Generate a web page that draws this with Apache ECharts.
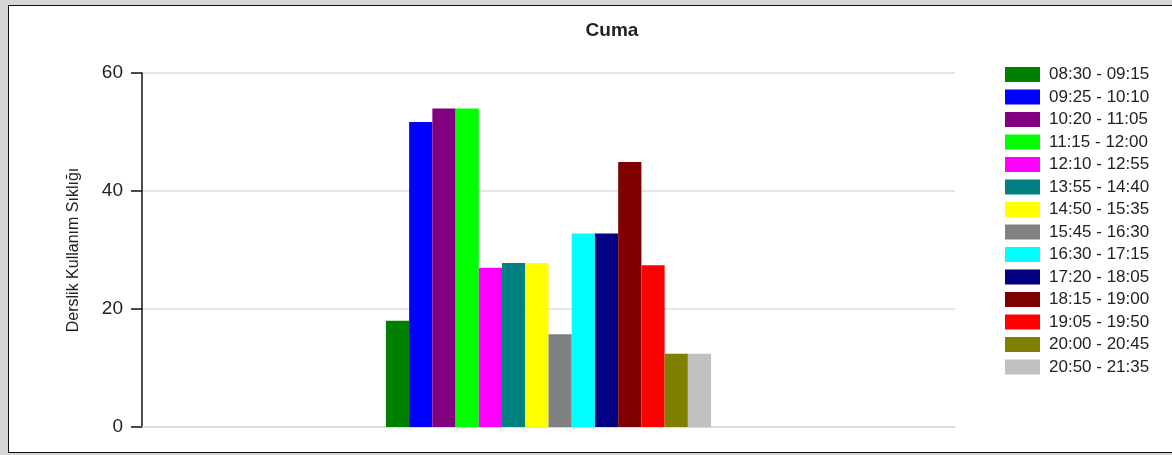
<!DOCTYPE html>
<html>
<head>
<meta charset="utf-8">
<script src="https://cdn.jsdelivr.net/npm/echarts@6/dist/echarts.min.js"></script>
<style>
  html, body { margin: 0; padding: 0; width: 1172px; height: 455px; background: #d6d6d6; overflow: hidden; }
  #frame { position: absolute; left: 8px; top: 5px; width: 1164px; height: 448px; background: #fff;
           border-left: 1.5px solid #111; border-top: 1.5px solid #111; border-bottom: 1.5px solid #111; box-sizing: border-box; }
  #chart { position: absolute; left: 0; top: 0; width: 1172px; height: 455px; }
</style>
</head>
<body>
<div id="frame"></div>
<div id="chart"></div>
<script>
const title = 'Cuma';
const yAxisName = 'Derslik Kullanım Sıklığı';
const categories = ['Cuma'];
const timeSlots = [
  '08:30 - 09:15', '09:25 - 10:10', '10:20 - 11:05', '11:15 - 12:00',
  '12:10 - 12:55', '13:55 - 14:40', '14:50 - 15:35', '15:45 - 16:30',
  '16:30 - 17:15', '17:20 - 18:05', '18:15 - 19:00', '19:05 - 19:50',
  '20:00 - 20:45', '20:50 - 21:35'
];
const values = [18, 51.7, 54, 54, 27, 27.8, 27.8, 15.7, 32.8, 32.8, 44.9, 27.4, 12.4, 12.4];
const yTicks = [0, 20, 40, 60];

const colors = ['#008000', '#0000ff', '#800080', '#00ff00', '#ff00ff', '#008080', '#ffff00',
                '#808080', '#00ffff', '#000080', '#800000', '#ff0000', '#808000', '#c0c0c0'];

const FONT = '"Liberation Sans", Arial, sans-serif';
const chart = echarts.init(document.getElementById('chart'), null, { renderer: 'canvas' });

const series = timeSlots.map((name, i) => ({
  name: name,
  type: 'bar',
  data: [values[i]],
  itemStyle: { color: colors[i] },
  barGap: '0%',
  barCategoryGap: '60%',
  animation: false
}));

chart.setOption({
  animation: false,
  backgroundColor: 'transparent',
  title: {
    text: title,
    left: 607,
    top: 16,
    textAlign: 'center',
    textStyle: { fontFamily: FONT, fontSize: 19, fontWeight: 'bold', color: '#222' }
  },
  legend: {
    orient: 'vertical',
    left: 1000,
    top: 61,
    icon: 'rect',
    itemWidth: 35,
    itemHeight: 15,
    itemGap: 5.5,
    textStyle: { fontFamily: FONT, fontSize: 17, color: '#222', padding: [0, 0, 0, 4] },
    data: timeSlots
  },
  grid: { left: 142, right: 217, top: 73, bottom: 28, containLabel: false },
  xAxis: {
    type: 'category',
    data: categories,
    axisLine: { show: true, lineStyle: { color: '#d8d8d8', width: 1.5 } },
    axisTick: { show: false },
    axisLabel: { show: false },
    splitLine: { show: false }
  },
  yAxis: {
    type: 'value',
    min: yTicks[0],
    max: yTicks[yTicks.length - 1],
    interval: yTicks[1] - yTicks[0],
    name: yAxisName,
    nameLocation: 'middle',
    nameGap: 60.5,
    nameRotate: 90,
    nameTextStyle: { fontFamily: FONT, fontSize: 16, color: '#222' },
    axisLine: { show: true, lineStyle: { color: '#111', width: 1.5 } },
    axisTick: { show: true, inside: false, length: 11, lineStyle: { color: '#111', width: 1.5 } },
    axisLabel: { fontFamily: FONT, fontSize: 19, color: '#222', margin: 19 },
    splitLine: { show: true, lineStyle: { color: '#dcdcdc', width: 1.5 } }
  },
  series: series
});
</script>
</body>
</html>
